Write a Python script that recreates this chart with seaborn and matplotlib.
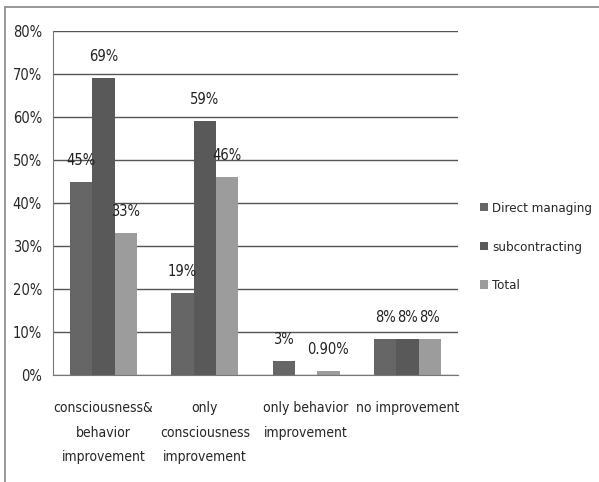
import matplotlib
matplotlib.use('Agg')
import matplotlib.pyplot as plt
from matplotlib.lines import Line2D
import seaborn as sns
import pandas as pd

# Data
categories = ['consciousness&\nbehavior\nimprovement', 'only\nconsciousness\nimprovement',
              'only behavior\nimprovement', 'no improvement']
series = ['Direct managing', 'subcontracting', 'Total']
direct = [45, 19, 3.2, 8.3]
subcontract = [69, 59, 0, 8.3]
total = [33, 46, 0.9, 8.3]
direct_labels = ['45%', '19%', '3%', '8%']
subcontract_labels = ['69%', '59%', '', '8%']
total_labels = ['33%', '46%', '0.90%', '8%']
colors = ['#666666', '#595959', '#9c9c9c']

df = pd.DataFrame({
    'category': categories * 3,
    'series': [series[0]] * 4 + [series[1]] * 4 + [series[2]] * 4,
    'value': direct + subcontract + total,
})

sns.set_style('white')
plt.rcParams['font.family'] = ['DejaVu Sans']
plt.rcParams['font.stretch'] = 'condensed'

fig = plt.figure(figsize=(5.99, 4.82), dpi=100)
ax = fig.add_axes([53 / 599, 1 - 375 / 482, 405 / 599, 344 / 482])

sns.barplot(data=df, x='category', y='value', hue='series', palette=colors,
            width=0.66, saturation=1, linewidth=0, ax=ax, legend=True)

for cont, labs in zip(ax.containers, [direct_labels, subcontract_labels, total_labels]):
    ax.bar_label(cont, labels=labs, padding=10, fontsize=10.5, color='#222222')

ax.set_ylim(0, 80)
ax.set_yticks(range(0, 81, 10))
ax.set_yticklabels([f'{v}%' for v in range(0, 81, 10)], fontsize=10.5)
ax.set_xlim(-0.5, 3.5)
ax.set_xticks([-0.5, 0.5, 1.5, 2.5, 3.5])
ax.set_xticklabels([])
ax.set_xticks(range(4), minor=True)
ax.set_xticklabels(categories, minor=True, fontsize=10, linespacing=1.95)
ax.tick_params(axis='x', which='major', length=6, color='#777777', direction='out')
ax.tick_params(axis='x', which='minor', length=0, pad=19)
ax.tick_params(axis='y', length=5, color='#777777', direction='out', pad=3)
ax.set_xlabel('')
ax.set_ylabel('')
ax.grid(axis='y', color='#555555', linewidth=1)
ax.set_axisbelow(True)
for s in ['top', 'right']:
    ax.spines[s].set_visible(False)
for s in ['left', 'bottom']:
    ax.spines[s].set_color('#777777')

ax.legend(loc='center left', bbox_to_anchor=(1.025, 0.372), frameon=False, fontsize=9.5,
          handlelength=0.6, handleheight=0.6, handletextpad=0.3, labelspacing=1.95)

# outer chart border (top and left only visible)
fig.add_artist(Line2D([5 / 599, 5 / 599], [0, 1 - 7 / 482], color='#888888', lw=1.2))
fig.add_artist(Line2D([5 / 599, 1], [1 - 7 / 482, 1 - 7 / 482], color='#888888', lw=1.2))

fig.savefig('out.png', dpi=100)
